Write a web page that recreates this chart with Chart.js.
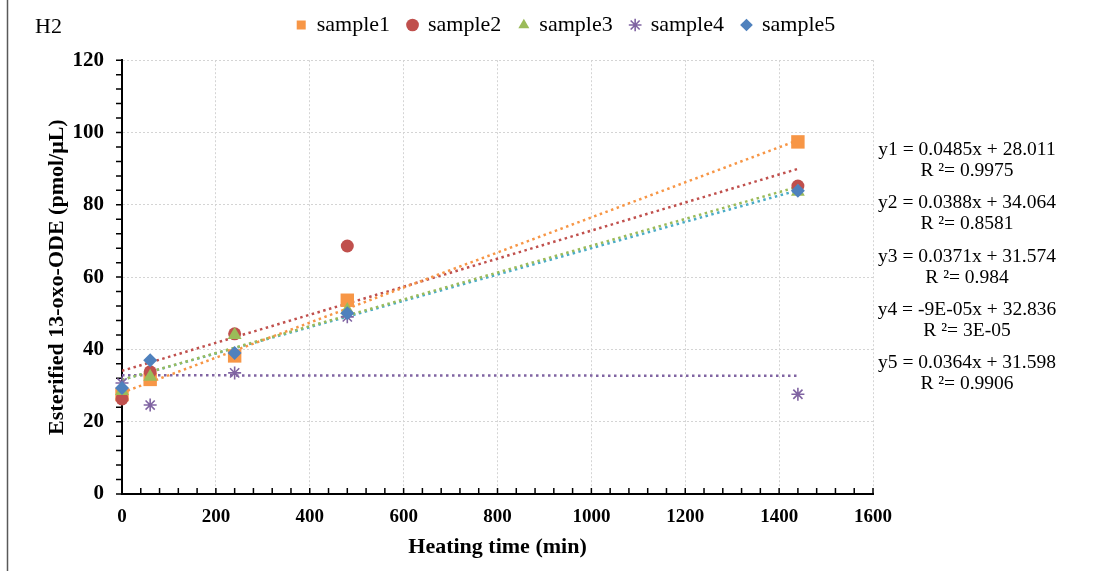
<!DOCTYPE html>
<html>
<head>
<meta charset="utf-8">
<script src="https://cdn.jsdelivr.net/npm/chart.js@4.4.1/dist/chart.umd.min.js"></script>
<style>
html, body { margin: 0; padding: 0; background: #fff; }
#wrap { width: 1108px; height: 571px; }
</style>
</head>
<body>
<div id="wrap"><canvas id="myChart" width="1108" height="571"></canvas></div>
<script>
// heating time (min) and esterified 13-oxo-ODE (pmol/uL)
const heatingTime = [0, 60, 240, 480, 1440];
const sample1 = [27.5, 31.7, 38.2, 53.6, 97.4];
const sample2 = [26.3, 33.8, 44.3, 68.6, 85.2];
const sample3 = [28.5, 32.4, 44.0, 50.9, 83.6];
const sample4 = [30.7, 24.6, 33.5, 49.0, 27.6];
const sample5 = [29.3, 37.0, 39.0, 50.0, 83.9];

const seriesNames = ["sample1", "sample2", "sample3", "sample4", "sample5"];
const seriesValues = [sample1, sample2, sample3, sample4, sample5];
const seriesColors = ["#F79646", "#C0504D", "#9BBB59", "#8064A2", "#4F81BD"];
const trendColors = ["#F79646", "#C0504D", "#9BBB59", "#8064A2", "#4BACC6"];
const pointStyles = ["rect", "circle", "triangle", "star", "rectRot"];
const pointSizes = [9.5, 6.5, 8, 6.5, 7];

// linear trendlines as printed on the chart
const trendSlope = [0.0485, 0.0388, 0.0371, -0.00009, 0.0364];
const trendIntercept = [28.011, 34.064, 31.574, 32.836, 31.598];
const trendRange = [0, 1440];
const equations = [
    ["y1 = 0.0485x + 28.011", "R \u00b2= 0.9975"],
    ["y2 = 0.0388x + 34.064", "R \u00b2= 0.8581"],
    ["y3 = 0.0371x + 31.574", "R \u00b2= 0.984"],
    ["y4 = -9E-05x + 32.836", "R \u00b2= 3E-05"],
    ["y5 = 0.0364x + 31.598", "R \u00b2= 0.9906"],
];

const xTickValues = [0, 200, 400, 600, 800, 1000, 1200, 1400, 1600];
const yTickValues = [0, 20, 40, 60, 80, 100, 120];
const xMinorStep = 40;
const yMinorStep = 4;

const serif = "'Liberation Serif', 'Times New Roman', serif";

let datasets = [];
seriesNames.forEach((name, i) => {
    datasets.push({
        label: name,
        data: heatingTime.map((t, j) => ({ x: t, y: seriesValues[i][j] })),
        backgroundColor: seriesColors[i],
        borderColor: seriesColors[i],
        borderWidth: pointStyles[i] === "star" ? 1.6 : 0,
        pointStyle: pointStyles[i],
        pointRadius: pointSizes[i],
        pointHoverRadius: pointSizes[i],
        clip: false,
        order: 5 - i,
    });
});
seriesNames.forEach((name, i) => {
    datasets.push({
        type: "line",
        label: name + " trend",
        data: trendRange.map(t => ({ x: t, y: trendSlope[i] * t + trendIntercept[i] })),
        borderColor: trendColors[i],
        borderWidth: 2.5,
        borderDash: [2.5, 3.5],
        pointRadius: 0,
        fill: false,
        showLine: true,
        order: 10 + i,
    });
});

const extras = {
    id: "extras",
    beforeDatasetsDraw(chart) {
        const { ctx, scales: { x, y } } = chart;
        ctx.save();
        ctx.strokeStyle = "#000";
        ctx.lineWidth = 1.5;
        ctx.beginPath();
        for (let v = y.min; v <= y.max; v += yMinorStep) {
            const py = y.getPixelForValue(v);
            ctx.moveTo(x.left - 6, py);
            ctx.lineTo(x.left, py);
        }
        for (let v = x.min; v <= x.max; v += xMinorStep) {
            const px = x.getPixelForValue(v);
            ctx.moveTo(px, y.bottom);
            ctx.lineTo(px, y.bottom - 6);
        }
        ctx.stroke();
        ctx.restore();
    },
    afterDraw(chart) {
        const ctx = chart.ctx;
        ctx.save();
        // frame edge on the left
        ctx.strokeStyle = "#595959";
        ctx.lineWidth = 1.5;
        ctx.beginPath();
        ctx.moveTo(7.5, 0);
        ctx.lineTo(7.5, chart.height);
        ctx.stroke();

        ctx.fillStyle = "#000";
        ctx.textBaseline = "middle";
        ctx.font = "22px " + serif;
        ctx.textAlign = "left";
        ctx.fillText("H2", 35, 27);

        ctx.font = "19.5px " + serif;
        ctx.textAlign = "center";
        equations.forEach((eq, i) => {
            const top = 150 + i * 53.3;
            ctx.fillText(eq[0], 967, top);
            ctx.fillText(eq[1], 967, top + 21);
        });
        ctx.restore();
    },
};

let ctx = document.getElementById("myChart").getContext("2d");
let myChart = new Chart(ctx, {
    type: "scatter",
    data: { datasets: datasets },
    options: {
        responsive: false,
        animation: false,
        layout: { padding: { top: -4, left: 24, right: 0, bottom: 0 } },
        plugins: {
            tooltip: { enabled: false },
            title: {
                display: true,
                text: "",
                weight: 500,
                font: { size: 1 },
                padding: { top: 0, bottom: 13 },
            },
            legend: {
                position: "top",
                labels: {
                    usePointStyle: true,
                    boxHeight: 9,
                    boxWidth: 9,
                    padding: 18,
                    color: "#000",
                    font: { family: serif, size: 22 },
                    filter: item => item.datasetIndex < seriesNames.length,
                    sort: (a, b) => a.datasetIndex - b.datasetIndex,
                },
            },
        },
        scales: {
            x: {
                type: "linear",
                min: 0,
                max: 1600,
                afterBuildTicks: s => { s.ticks = xTickValues.map(v => ({ value: v })); },
                afterFit: s => { s.height = 77; },
                grid: { color: "#d4d4d4", lineWidth: 1, drawTicks: false, borderDash: [2, 2] },
                border: { color: "#000", width: 2, dash: [2, 2] },
                ticks: {
                    autoSkip: false,
                    maxRotation: 0,
                    padding: 12,
                    color: "#000",
                    font: { family: serif, size: 19, weight: "bold" },
                    callback: v => String(v),
                },
                title: {
                    display: true,
                    text: "Heating time (min)",
                    color: "#000",
                    font: { family: serif, size: 22, weight: "bold" },
                    padding: { top: 0, bottom: 10 },
                },
            },
            y: {
                type: "linear",
                min: 0,
                max: 120,
                afterBuildTicks: s => { s.ticks = yTickValues.map(v => ({ value: v })); },
                afterFit: s => { s.width = 98; },
                grid: { color: "#d4d4d4", lineWidth: 1, drawTicks: false, borderDash: [2, 2] },
                border: { color: "#000", width: 2, dash: [2, 2] },
                ticks: {
                    padding: 18,
                    color: "#000",
                    font: { family: serif, size: 21, weight: "bold" },
                    callback: v => String(v),
                },
                title: {
                    display: true,
                    text: "Esterified 13-oxo-ODE (pmol/\u03bcL)",
                    color: "#000",
                    font: { family: serif, size: 22, weight: "bold" },
                    padding: { top: 20, bottom: 0 },
                },
            },
            yRight: {
                type: "linear",
                position: "right",
                min: 0,
                max: 120,
                afterFit: s => { s.width = 235; },
                grid: { display: false, drawTicks: false },
                border: { display: false },
                ticks: { display: false },
            },
        },
    },
    plugins: [extras],
});
</script>
</body>
</html>
